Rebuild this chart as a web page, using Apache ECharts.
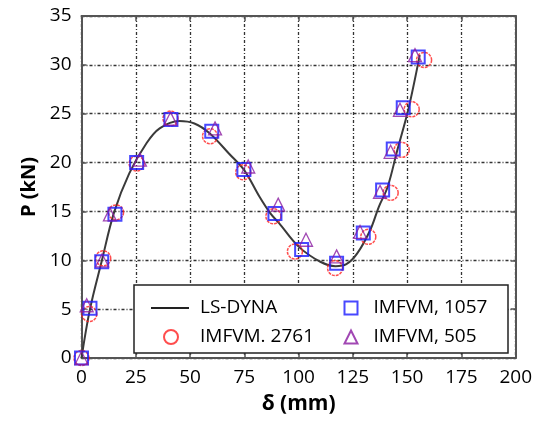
<!DOCTYPE html>
<html><head><meta charset="utf-8">
<script src="https://cdn.jsdelivr.net/npm/echarts@6/dist/echarts.min.js"></script>
<style>html,body{margin:0;padding:0;background:#fff}#c{width:542px;height:426px}</style>
</head><body><div id="c"></div>
<script>
// LS-DYNA reference curve (delta mm, P kN)
const dynaDelta = [0, 3.9, 9.3, 15, 22, 30, 36, 45, 52, 59, 68, 75, 82, 87, 91, 100, 110, 117, 122, 127, 133, 137, 141, 145.5, 150.5, 155.8];
const dynaP     = [0, 5.0, 9.9, 14.9, 18.9, 22.0, 23.5, 24.25, 24.0, 23.0, 20.9, 19.2, 16.5, 14.8, 13.8, 11.4, 9.85, 9.4, 9.6, 10.7, 13.1, 15.5, 17.5, 21.3, 25.4, 31.0];
// IMFVM, 2761 (circles)
const c2761Delta = [0, 3.6, 10, 15.9, 25.4, 41, 59.2, 74.5, 88.4, 98.3, 116.8, 132.1, 142.4, 147.5, 152.1, 157.8];
const c2761P     = [0, 4.5, 10.2, 14.9, 19.9, 24.5, 22.7, 19.0, 14.5, 10.9, 9.2, 12.4, 16.9, 21.3, 25.45, 30.5];
// IMFVM, 1057 (squares)
const s1057Delta = [0, 3.9, 9.3, 15.4, 25.4, 41.2, 60, 74.8, 89.1, 101.4, 117.5, 129.8, 138.7, 143.6, 148.2, 155.1];
const s1057P     = [0, 5.1, 9.85, 14.7, 20.0, 24.4, 23.2, 19.3, 14.8, 11.1, 9.7, 12.8, 17.2, 21.4, 25.6, 30.8];
// IMFVM, 505 (triangles)
const t505Delta = [0, 2.4, 9.5, 13.1, 26.9, 41, 61.5, 76.8, 90.6, 103.4, 117.5, 128.3, 137.5, 142.4, 146.7, 153.6];
const t505P     = [0, 5.4, 10.0, 14.7, 20.3, 24.5, 23.5, 19.6, 15.7, 12.1, 10.4, 12.9, 17.0, 21.1, 25.4, 31.0];
const xTicks = [0, 25, 50, 75, 100, 125, 150, 175, 200];
const yTicks = [0, 5, 10, 15, 20, 25, 30, 35];

const zip = (a, b) => a.map((v, i) => [v, b[i]]);
const FONT = '"Open Sans", "Noto Sans", sans-serif';
const chart = echarts.init(document.getElementById('c'), null, {renderer: 'canvas'});
const gridLine = {show: true, lineStyle: {color: '#333', width: 1.3, type: [3, 2, 1, 2]}};
const frame = {show: true, onZero: false, lineStyle: {color: '#555', width: 2}};
const tick = {show: true, inside: true, length: 5, lineStyle: {color: '#555', width: 1.5}};
const legendBase = {orient: 'horizontal', itemHeight: 14, textStyle: {fontFamily: FONT, fontSize: 19, color: '#000', lineHeight: 22}, selectedMode: false};
chart.setOption({
  animation: false,
  backgroundColor: '#fff',
  grid: {left: 81.5, right: 26.3, top: 16, bottom: 68},
  xAxis: [{
    type: 'value', min: xTicks[0], max: xTicks[xTicks.length - 1], interval: 25,
    name: 'δ (mm)', nameLocation: 'middle', nameGap: 36,
    nameTextStyle: {fontFamily: FONT, fontSize: 21, fontWeight: 'bold', color: '#000'},
    axisLine: frame, axisTick: tick, splitLine: gridLine,
    axisLabel: {fontFamily: FONT, fontSize: 19, color: '#000', margin: 10}
  }, {
    type: 'value', position: 'top', min: xTicks[0], max: xTicks[xTicks.length - 1], interval: 25,
    axisLine: frame, axisTick: tick, axisLabel: {show: false}, splitLine: {show: false}
  }],
  yAxis: [{
    type: 'value', min: yTicks[0], max: yTicks[yTicks.length - 1], interval: 5,
    name: 'P (kN)', nameLocation: 'middle', nameGap: 40,
    nameTextStyle: {fontFamily: FONT, fontSize: 20, fontWeight: 'bold', color: '#000'},
    axisLine: frame, axisTick: tick, splitLine: gridLine,
    axisLabel: {fontFamily: FONT, fontSize: 19, color: '#000', margin: 10}
  }, {
    type: 'value', position: 'right', min: yTicks[0], max: yTicks[yTicks.length - 1], interval: 5,
    axisLine: frame, axisTick: tick, axisLabel: {show: false}, splitLine: {show: false}
  }],
  graphic: [{
    type: 'rect', z: 3, shape: {x: 134, y: 285, width: 374, height: 68},
    style: {fill: '#fff', stroke: '#222', lineWidth: 1.5}
  }],
  legend: [
    Object.assign({}, legendBase, {data: ['LS-DYNA'], left: 145, top: 292, itemWidth: 38,
      itemStyle: {opacity: 0}, lineStyle: {color: '#222', width: 2},
      textStyle: Object.assign({}, legendBase.textStyle, {padding: [0, 0, 0, 6]})}),
    Object.assign({}, legendBase, {data: ['IMFVM. 2761'], left: 158, top: 321, itemWidth: 14, textStyle: Object.assign({}, legendBase.textStyle, {padding: [0, 0, 0, 17]})}),
    Object.assign({}, legendBase, {data: ['IMFVM, 1057'], left: 338.5, top: 292, itemWidth: 13, itemHeight: 13, textStyle: Object.assign({}, legendBase.textStyle, {padding: [0, 0, 0, 11]})}),
    Object.assign({}, legendBase, {data: ['IMFVM, 505'], left: 338.5, top: 321, itemWidth: 13, itemHeight: 13, textStyle: Object.assign({}, legendBase.textStyle, {padding: [0, 0, 0, 11]})})
  ],
  series: [{
    name: 'LS-DYNA', type: 'line', data: zip(dynaDelta, dynaP), smooth: 0.35, symbol: 'none',
    lineStyle: {color: '#3a3a3a', width: 2}, itemStyle: {color: '#3a3a3a'}, z: 3
  }, {
    name: 'IMFVM. 2761', type: 'scatter', data: zip(c2761Delta, c2761P), symbol: 'circle', symbolSize: 15,
    itemStyle: {color: 'rgba(0,0,0,0)', borderColor: '#ff2020', borderWidth: 1.5, borderType: [3, 1]}, z: 4
  }, {
    name: 'IMFVM, 1057', type: 'scatter', data: zip(s1057Delta, s1057P), symbol: 'rect', symbolSize: 13,
    itemStyle: {color: 'rgba(0,0,0,0)', borderColor: '#1a1aff', borderWidth: 2}, z: 5
  }, {
    name: 'IMFVM, 505', type: 'scatter', data: zip(t505Delta, t505P), symbol: 'triangle', symbolSize: 13,
    itemStyle: {color: 'rgba(0,0,0,0)', borderColor: '#8a1aa0', borderWidth: 1.3}, z: 6
  }]
});
</script></body></html>
